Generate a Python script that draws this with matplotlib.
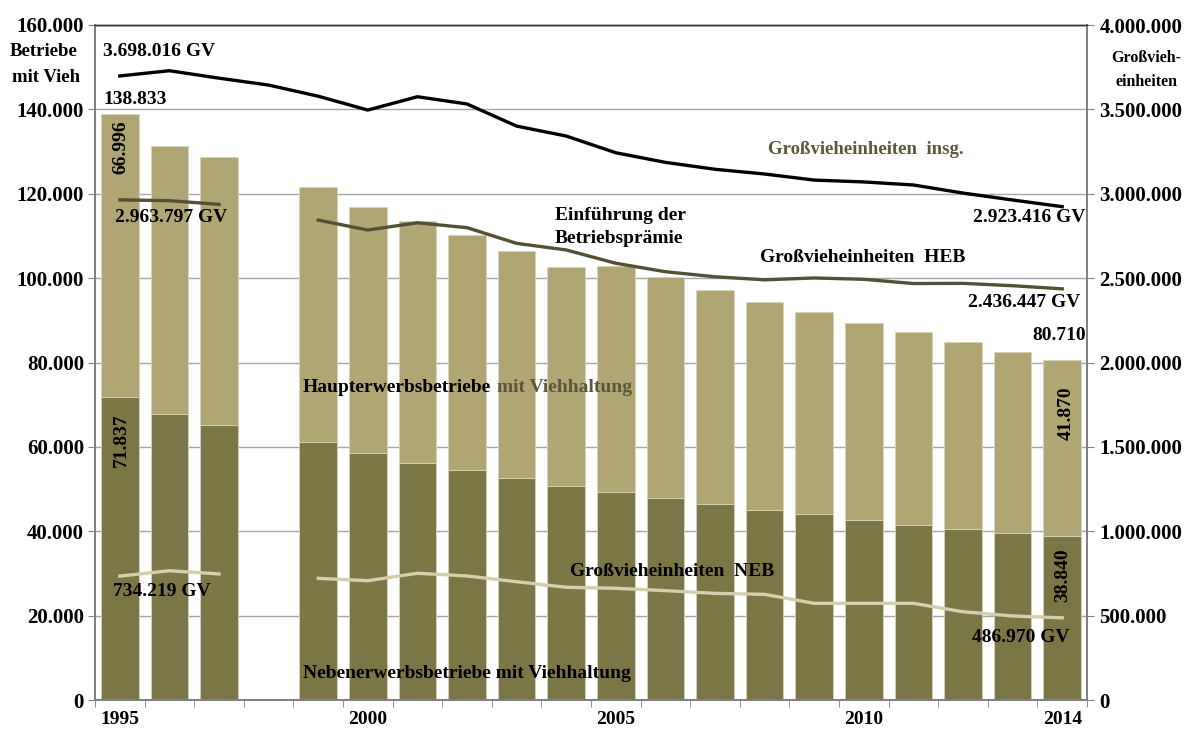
import numpy as np
import matplotlib
matplotlib.use("Agg")
import matplotlib.pyplot as plt
from matplotlib.ticker import FuncFormatter, FixedLocator

plt.rcParams['font.family'] = ['Liberation Serif', 'DejaVu Serif']
plt.rcParams['font.weight'] = 'bold'

years = list(range(1995, 2015))
# Betriebe mit Viehhaltung (None = keine Daten 1998)
neb_betriebe = [71837, 67900, 65300, None, 61200, 58600, 56250, 54600, 52600, 50800,
                49400, 47950, 46550, 45100, 44100, 42650, 41550, 40550, 39600, 38840]
heb_betriebe = [66996, 63450, 63500, None, 60300, 58350, 57300, 55550, 53750, 51850,
                53550, 52400, 50650, 49150, 47850, 46700, 45600, 44250, 42900, 41870]
# Großvieheinheiten
gv_insg = [3698016, 3729000, 3685000, 3644000, 3578000, 3496000, 3575000, 3532000, 3401000, 3342000,
           3243000, 3186000, 3145000, 3117000, 3081000, 3070000, 3052000, 3004000, 2963000, 2923416]
gv_heb = [2963797, 2959000, 2937000, None, 2844000, 2785000, 2828000, 2799000, 2706000, 2667000,
          2588000, 2538000, 2508000, 2490000, 2501000, 2493000, 2468000, 2469000, 2455000, 2436447]
gv_neb = [734219, 766000, 747000, None, 721000, 707000, 751000, 735000, 701000, 668000,
          662000, 648000, 632000, 626000, 573000, 573000, 573000, 523000, 498000, 486970]
year_labels = {1995: "1995", 2000: "2000", 2005: "2005", 2010: "2010", 2014: "2014"}

c_dark = "#7b7646"
c_light = "#b0a674"
c_heb_line = "#545034"
c_neb_line = "#d5cdab"
c_olive_text = "#5b5738"

def de(v, pos=None):
    return f"{int(round(v)):,}".replace(",", ".")

fig = plt.figure(figsize=(11.84, 7.31), dpi=100)
ax = fig.add_axes([95/1184, 1-700/731, (1087-95)/1184, 675/731])
ax2 = ax.twinx()

x = np.arange(len(years))
idx = [i for i, v in enumerate(neb_betriebe) if v is not None]
nb = np.array([neb_betriebe[i] for i in idx], float)
hb = np.array([heb_betriebe[i] for i in idx], float)
xb = x[idx]
w = 0.76
ax.bar(xb, nb, width=w, color=c_dark, edgecolor="#d8d3bd", linewidth=0.6, zorder=2)
ax.bar(xb, hb, bottom=nb, width=w, color=c_light, edgecolor="#d8d3bd", linewidth=0.6, zorder=2)

ax.set_xlim(-0.5, len(years) - 0.5)
ax.set_ylim(0, 160000)
ax.set_yticks(np.arange(0, 160001, 20000))
ax.yaxis.set_major_formatter(FuncFormatter(de))
ax.grid(axis='y', color="#a6a6a6", linewidth=1.0, zorder=0)
ax.set_axisbelow(True)

def arr(lst):
    return np.array([np.nan if v is None else v for v in lst], float)

ax2.plot(x, arr(gv_insg), color="black", linewidth=2.4, zorder=5)
ax2.plot(x, arr(gv_heb), color=c_heb_line, linewidth=2.4, zorder=5)
ax2.plot(x, arr(gv_neb), color=c_neb_line, linewidth=2.4, zorder=5)
ax2.set_ylim(0, 4000000)
ax2.set_yticks(np.arange(0, 4000001, 500000))
ax2.yaxis.set_major_formatter(FuncFormatter(de))

# x ticks
lab_pos = [years.index(y) for y in year_labels]
ax.set_xticks(lab_pos)
ax.set_xticklabels(list(year_labels.values()))
ax.xaxis.set_minor_locator(FixedLocator(np.arange(-0.5, len(years), 1.0)))
ax.tick_params(axis='x', which='major', length=0, pad=8, labelsize=14)
ax.tick_params(axis='x', which='minor', length=5, color="#808080", direction='out')
ax.tick_params(axis='y', length=5, color="#808080", labelsize=15, pad=3)
ax2.tick_params(axis='y', length=5, color="#808080", labelsize=15, pad=4)

for a in (ax, ax2):
    for s in ('left', 'right', 'bottom'):
        a.spines[s].set_color("#808080")
        a.spines[s].set_linewidth(1.3)
    a.spines['top'].set_color("#333333")
    a.spines['top'].set_linewidth(1.0)

fs = 14
tk = dict(fontsize=fs, fontweight='bold', transform=fig.transFigure)
def ft(px, py, s, **kw):
    d = dict(tk); d.update(kw)
    fig.text(px/1184, 1-py/731, s, **d)

ft(10, 52, "Betriebe", ha='left', va='center', fontsize=13.5)
ft(12, 77, "mit Vieh", ha='left', va='center', fontsize=13.5)
ft(1146, 58, "Großvieh-", ha='center', va='center', fontsize=11.5)
ft(1146, 82, "einheiten", ha='center', va='center', fontsize=11.5)

ft(103, 52, "3.698.016 GV", ha='left', va='center')
ft(103, 99, "138.833", ha='left', va='center')
ft(121, 147, "66.996", ha='center', va='center', rotation=90)
ft(121, 440, "71.837", ha='center', va='center', rotation=90)
ft(115, 218, "2.963.797 GV", ha='left', va='center')
ft(113, 591, "734.219 GV", ha='left', va='center')

ft(303, 387, "Haupterwerbsbetriebe", ha='left', va='center')
ft(497, 387, "mit Viehhaltung", ha='left', va='center', color=c_olive_text)
ft(303, 673, "Nebenerwerbsbetriebe mit Viehhaltung", ha='left', va='center')
ft(555, 216, "Einführung der", ha='left', va='center')
ft(555, 239, "Betriebsprämie", ha='left', va='center')
ft(768, 150, "Großvieheinheiten  insg.", ha='left', va='center', color=c_olive_text, fontsize=13.5)
ft(760, 257, "Großvieheinheiten  HEB", ha='left', va='center')
ft(570, 571, "Großvieheinheiten  NEB", ha='left', va='center')
ft(1085, 218, "2.923.416 GV", ha='right', va='center')
ft(1080, 303, "2.436.447 GV", ha='right', va='center')
ft(1086, 336, "80.710", ha='right', va='center')
ft(1066, 413, "41.870", ha='center', va='center', rotation=90)
ft(1063, 575, "38.840", ha='center', va='center', rotation=90)
ft(1070, 638, "486.970 GV", ha='right', va='center')

fig.savefig("out.png", dpi=100)
